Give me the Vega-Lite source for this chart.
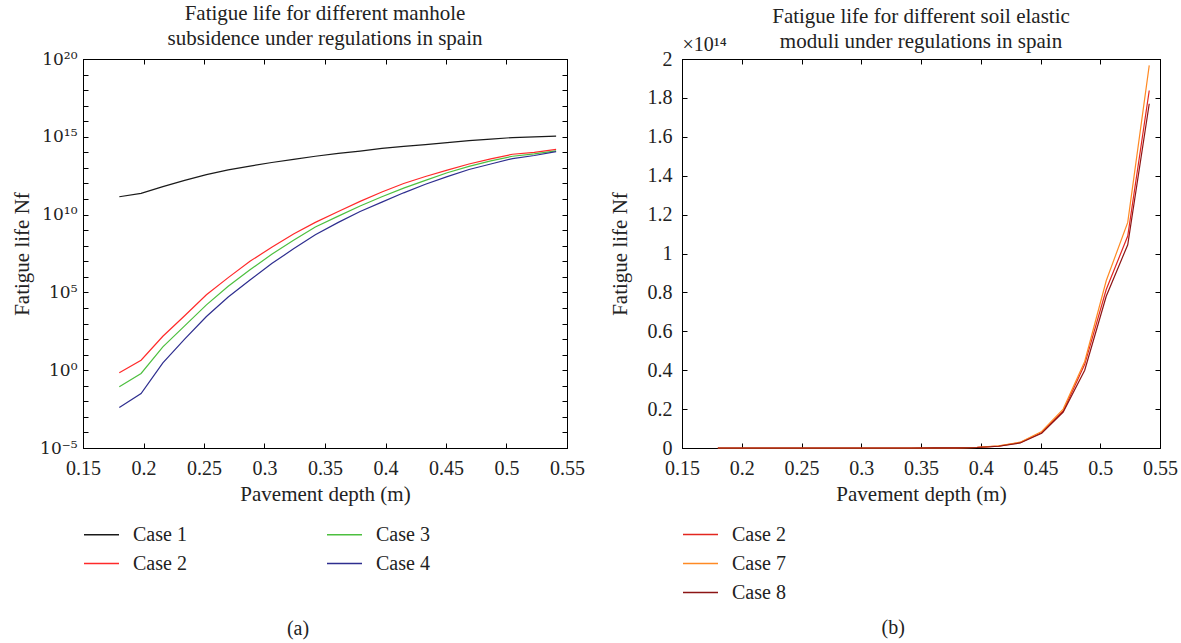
{
  "$schema": "https://vega.github.io/schema/vega-lite/v6.json",
  "background": "white",
  "padding": {"left": 11, "top": 2, "right": 5, "bottom": 2},
  "spacing": 23,
  "resolve": {"scale": {"color": "independent"}, "legend": {"color": "independent"}},
  "config": {
    "font": "Liberation Serif",
    "view": {"stroke": "#000", "strokeWidth": 1},
    "axis": {
      "grid": false,
      "domainColor": "#000",
      "tickColor": "#000",
      "tickSize": -5,
      "labelColor": "#222",
      "titleColor": "#222",
      "labelFont": "Liberation Serif",
      "titleFont": "Liberation Serif",
      "labelFontSize": 20,
      "titleFontSize": 21,
      "titleFontWeight": "normal",
      "labelOverlap": false,
      "labelFlush": false,
      "labelPadding": 11
    },
    "title": {"font": "Liberation Serif", "fontSize": 21, "fontWeight": "normal", "color": "#222", "lineHeight": 25},
    "legend": {
      "orient": "none",
      "title": null,
      "symbolType": "stroke",
      "symbolSize": 1225,
      "symbolStrokeWidth": 1.5,
      "labelFont": "Liberation Serif",
      "labelFontSize": 20,
      "labelColor": "#222",
      "labelOffset": 13,
      "rowPadding": -7
    }
  },
  "datasets": {
    "left": [
      {"x": 0.18, "case": "Case 1", "nf": 1.41e11}, {"x": 0.198, "case": "Case 1", "nf": 2.34e11}, {"x": 0.216, "case": "Case 1", "nf": 6.31e11}, {"x": 0.234, "case": "Case 1", "nf": 1.58e12}, {"x": 0.252, "case": "Case 1", "nf": 3.72e12}, {"x": 0.27, "case": "Case 1", "nf": 7.41e12}, {"x": 0.288, "case": "Case 1", "nf": 1.32e13}, {"x": 0.306, "case": "Case 1", "nf": 2.24e13}, {"x": 0.324, "case": "Case 1", "nf": 3.55e13}, {"x": 0.342, "case": "Case 1", "nf": 5.62e13}, {"x": 0.361, "case": "Case 1", "nf": 8.51e13}, {"x": 0.379, "case": "Case 1", "nf": 1.2e14}, {"x": 0.397, "case": "Case 1", "nf": 1.78e14}, {"x": 0.415, "case": "Case 1", "nf": 2.4e14}, {"x": 0.433, "case": "Case 1", "nf": 3.16e14}, {"x": 0.451, "case": "Case 1", "nf": 4.27e14}, {"x": 0.469, "case": "Case 1", "nf": 5.62e14}, {"x": 0.487, "case": "Case 1", "nf": 7.08e14}, {"x": 0.505, "case": "Case 1", "nf": 8.91e14}, {"x": 0.523, "case": "Case 1", "nf": 9.77e14}, {"x": 0.541, "case": "Case 1", "nf": 1.1e15},
      {"x": 0.18, "case": "Case 2", "nf": 0.676}, {"x": 0.198, "case": "Case 2", "nf": 4.37}, {"x": 0.216, "case": "Case 2", "nf": 151}, {"x": 0.234, "case": "Case 2", "nf": 3162}, {"x": 0.252, "case": "Case 2", "nf": 7.08e4}, {"x": 0.27, "case": "Case 2", "nf": 8.9e5}, {"x": 0.288, "case": "Case 2", "nf": 1e7}, {"x": 0.306, "case": "Case 2", "nf": 7.94e7}, {"x": 0.324, "case": "Case 2", "nf": 5.62e8}, {"x": 0.342, "case": "Case 2", "nf": 3.16e9}, {"x": 0.361, "case": "Case 2", "nf": 1.58e10}, {"x": 0.379, "case": "Case 2", "nf": 7.08e10}, {"x": 0.397, "case": "Case 2", "nf": 2.82e11}, {"x": 0.415, "case": "Case 2", "nf": 1e12}, {"x": 0.433, "case": "Case 2", "nf": 2.82e12}, {"x": 0.451, "case": "Case 2", "nf": 7.24e12}, {"x": 0.469, "case": "Case 2", "nf": 1.78e13}, {"x": 0.487, "case": "Case 2", "nf": 3.8e13}, {"x": 0.505, "case": "Case 2", "nf": 7.59e13}, {"x": 0.523, "case": "Case 2", "nf": 1e14}, {"x": 0.541, "case": "Case 2", "nf": 1.55e14},
      {"x": 0.18, "case": "Case 3", "nf": 0.0851}, {"x": 0.198, "case": "Case 3", "nf": 0.617}, {"x": 0.216, "case": "Case 3", "nf": 31.6}, {"x": 0.234, "case": "Case 3", "nf": 708}, {"x": 0.252, "case": "Case 3", "nf": 1.58e4}, {"x": 0.27, "case": "Case 3", "nf": 2.51e5}, {"x": 0.288, "case": "Case 3", "nf": 2.82e6}, {"x": 0.306, "case": "Case 3", "nf": 2.82e7}, {"x": 0.324, "case": "Case 3", "nf": 2.24e8}, {"x": 0.342, "case": "Case 3", "nf": 1.58e9}, {"x": 0.361, "case": "Case 3", "nf": 7.94e9}, {"x": 0.379, "case": "Case 3", "nf": 3.55e10}, {"x": 0.397, "case": "Case 3", "nf": 1.41e11}, {"x": 0.415, "case": "Case 3", "nf": 5.01e11}, {"x": 0.433, "case": "Case 3", "nf": 1.58e12}, {"x": 0.451, "case": "Case 3", "nf": 4.9e12}, {"x": 0.469, "case": "Case 3", "nf": 1.26e13}, {"x": 0.487, "case": "Case 3", "nf": 2.82e13}, {"x": 0.505, "case": "Case 3", "nf": 5.62e13}, {"x": 0.523, "case": "Case 3", "nf": 7.94e13}, {"x": 0.541, "case": "Case 3", "nf": 1.26e14},
      {"x": 0.18, "case": "Case 4", "nf": 0.00398}, {"x": 0.198, "case": "Case 4", "nf": 0.0316}, {"x": 0.216, "case": "Case 4", "nf": 2.95}, {"x": 0.234, "case": "Case 4", "nf": 100}, {"x": 0.252, "case": "Case 4", "nf": 2818}, {"x": 0.27, "case": "Case 4", "nf": 5.01e4}, {"x": 0.288, "case": "Case 4", "nf": 6.31e5}, {"x": 0.306, "case": "Case 4", "nf": 7.08e6}, {"x": 0.324, "case": "Case 4", "nf": 6.31e7}, {"x": 0.342, "case": "Case 4", "nf": 5.01e8}, {"x": 0.361, "case": "Case 4", "nf": 3.16e9}, {"x": 0.379, "case": "Case 4", "nf": 1.58e10}, {"x": 0.397, "case": "Case 4", "nf": 6.31e10}, {"x": 0.415, "case": "Case 4", "nf": 2.51e11}, {"x": 0.433, "case": "Case 4", "nf": 8.91e11}, {"x": 0.451, "case": "Case 4", "nf": 2.75e12}, {"x": 0.469, "case": "Case 4", "nf": 7.94e12}, {"x": 0.487, "case": "Case 4", "nf": 1.78e13}, {"x": 0.505, "case": "Case 4", "nf": 3.98e13}, {"x": 0.523, "case": "Case 4", "nf": 6.31e13}, {"x": 0.541, "case": "Case 4", "nf": 1.1e14}
    ],
    "right": [
      {"x": 0.18, "case": "Case 2", "nf": 0}, {"x": 0.198, "case": "Case 2", "nf": 0}, {"x": 0.216, "case": "Case 2", "nf": 0}, {"x": 0.234, "case": "Case 2", "nf": 0}, {"x": 0.252, "case": "Case 2", "nf": 0}, {"x": 0.27, "case": "Case 2", "nf": 0}, {"x": 0.288, "case": "Case 2", "nf": 0}, {"x": 0.306, "case": "Case 2", "nf": 0}, {"x": 0.324, "case": "Case 2", "nf": 0}, {"x": 0.342, "case": "Case 2", "nf": 0}, {"x": 0.361, "case": "Case 2", "nf": 1.6e10}, {"x": 0.379, "case": "Case 2", "nf": 7e10}, {"x": 0.397, "case": "Case 2", "nf": 2.8e11}, {"x": 0.415, "case": "Case 2", "nf": 1e12}, {"x": 0.433, "case": "Case 2", "nf": 2.8e12}, {"x": 0.451, "case": "Case 2", "nf": 8e12}, {"x": 0.469, "case": "Case 2", "nf": 1.9e13}, {"x": 0.487, "case": "Case 2", "nf": 4.3e13}, {"x": 0.505, "case": "Case 2", "nf": 8.15e13}, {"x": 0.523, "case": "Case 2", "nf": 1.09e14}, {"x": 0.541, "case": "Case 2", "nf": 1.838e14},
      {"x": 0.18, "case": "Case 7", "nf": 0}, {"x": 0.198, "case": "Case 7", "nf": 0}, {"x": 0.216, "case": "Case 7", "nf": 0}, {"x": 0.234, "case": "Case 7", "nf": 0}, {"x": 0.252, "case": "Case 7", "nf": 0}, {"x": 0.27, "case": "Case 7", "nf": 0}, {"x": 0.288, "case": "Case 7", "nf": 0}, {"x": 0.306, "case": "Case 7", "nf": 0}, {"x": 0.324, "case": "Case 7", "nf": 0}, {"x": 0.342, "case": "Case 7", "nf": 0}, {"x": 0.361, "case": "Case 7", "nf": 1.8e10}, {"x": 0.379, "case": "Case 7", "nf": 8e10}, {"x": 0.397, "case": "Case 7", "nf": 3e11}, {"x": 0.415, "case": "Case 7", "nf": 1.1e12}, {"x": 0.433, "case": "Case 7", "nf": 3e12}, {"x": 0.451, "case": "Case 7", "nf": 8.5e12}, {"x": 0.469, "case": "Case 7", "nf": 2e13}, {"x": 0.487, "case": "Case 7", "nf": 4.45e13}, {"x": 0.505, "case": "Case 7", "nf": 8.6e13}, {"x": 0.523, "case": "Case 7", "nf": 1.16e14}, {"x": 0.541, "case": "Case 7", "nf": 1.967e14},
      {"x": 0.18, "case": "Case 8", "nf": 0}, {"x": 0.198, "case": "Case 8", "nf": 0}, {"x": 0.216, "case": "Case 8", "nf": 0}, {"x": 0.234, "case": "Case 8", "nf": 0}, {"x": 0.252, "case": "Case 8", "nf": 0}, {"x": 0.27, "case": "Case 8", "nf": 0}, {"x": 0.288, "case": "Case 8", "nf": 0}, {"x": 0.306, "case": "Case 8", "nf": 0}, {"x": 0.324, "case": "Case 8", "nf": 0}, {"x": 0.342, "case": "Case 8", "nf": 0}, {"x": 0.361, "case": "Case 8", "nf": 1.4e10}, {"x": 0.379, "case": "Case 8", "nf": 6e10}, {"x": 0.397, "case": "Case 8", "nf": 2.5e11}, {"x": 0.415, "case": "Case 8", "nf": 9e11}, {"x": 0.433, "case": "Case 8", "nf": 2.6e12}, {"x": 0.451, "case": "Case 8", "nf": 7.6e12}, {"x": 0.469, "case": "Case 8", "nf": 1.85e13}, {"x": 0.487, "case": "Case 8", "nf": 4e13}, {"x": 0.505, "case": "Case 8", "nf": 7.8e13}, {"x": 0.523, "case": "Case 8", "nf": 1.045e14}, {"x": 0.541, "case": "Case 8", "nf": 1.77e14}
    ]
  },
  "hconcat": [
    {
      "title": {"text": "(a)", "orient": "bottom", "anchor": "middle", "fontSize": 20, "offset": 45},
      "vconcat": [
        {
          "title": {"text": ["Fatigue life for different manhole", "subsidence under regulations in spain"], "anchor": "middle", "offset": 1},
          "width": 484,
          "height": 389,
          "data": {"name": "left"},
          "resolve": {"axis": {"x": "independent", "y": "independent"}},
          "layer": [
            {
              "mark": {"type": "line", "strokeWidth": 1.2},
              "encoding": {
                "x": {"field": "x", "type": "quantitative", "scale": {"domain": [0.15, 0.55], "nice": false, "zero": false},
                      "axis": {"orient": "bottom", "title": "Pavement depth (m)", "values": [0.15, 0.2, 0.25, 0.3, 0.35, 0.4, 0.45, 0.5, 0.55], "format": "~g", "labelPadding": 15, "titlePadding": 5}},
                "y": {"field": "nf", "type": "quantitative", "scale": {"type": "log", "domain": [1e-5, 1e20], "nice": false},
                      "axis": {"orient": "left", "title": "Fatigue life Nf", "titlePadding": 7, "labelFont": "DejaVu Serif", "labelFontSize": 17,
                               "values": [1e-5, 1e-4, 1e-3, 1e-2, 1e-1, 1, 10, 100, 1e3, 1e4, 1e5, 1e6, 1e7, 1e8, 1e9, 1e10, 1e11, 1e12, 1e13, 1e14, 1e15, 1e16, 1e17, 1e18, 1e19, 1e20],
                               "labelExpr": "datum.value==1e-5?'10⁻⁵':datum.value==1?'10⁰':datum.value==1e5?'10⁵':datum.value==1e10?'10¹⁰':datum.value==1e15?'10¹⁵':datum.value==1e20?'10²⁰':''"}},
                "color": {"field": "case", "type": "nominal",
                          "scale": {"domain": ["Case 1", "Case 2", "Case 3", "Case 4"], "range": ["#1a1a1a", "#ff2a2a", "#4dbf3f", "#2e2e8f"]},
                          "legend": {"columns": 2, "legendX": 0, "legendY": 457, "columnPadding": 137}}
              }
            },
            {
              "mark": {"type": "point", "opacity": 0},
              "encoding": {
                "x": {"field": "x", "type": "quantitative", "axis": {"orient": "top", "title": null, "labels": false, "values": [0.15, 0.2, 0.25, 0.3, 0.35, 0.4, 0.45, 0.5, 0.55]}},
                "y": {"field": "nf", "type": "quantitative", "axis": {"orient": "right", "title": null, "labels": false,
                      "values": [1e-5, 1e-4, 1e-3, 1e-2, 1e-1, 1, 10, 100, 1e3, 1e4, 1e5, 1e6, 1e7, 1e8, 1e9, 1e10, 1e11, 1e12, 1e13, 1e14, 1e15, 1e16, 1e17, 1e18, 1e19, 1e20]}}
              }
            }
          ]
        }
      ]
    },
    {
      "title": {"text": "(b)", "orient": "bottom", "anchor": "middle", "fontSize": 20, "offset": 15},
      "vconcat": [
        {
          "title": {"text": ["Fatigue life for different soil elastic", "moduli under regulations in spain"], "anchor": "middle", "offset": -17},
          "width": 478,
          "height": 389,
          "data": {"name": "right"},
          "resolve": {"axis": {"x": "independent", "y": "independent"}},
          "layer": [
            {
              "mark": {"type": "line", "strokeWidth": 1.2},
              "encoding": {
                "x": {"field": "x", "type": "quantitative", "scale": {"domain": [0.15, 0.55], "nice": false, "zero": false},
                      "axis": {"orient": "bottom", "title": "Pavement depth (m)", "values": [0.15, 0.2, 0.25, 0.3, 0.35, 0.4, 0.45, 0.5, 0.55], "format": "~g", "labelPadding": 15, "titlePadding": 5}},
                "y": {"field": "nf", "type": "quantitative", "scale": {"domain": [0, 2e14], "nice": false},
                      "axis": {"orient": "left", "title": "Fatigue life Nf", "titlePadding": 17, "labelPadding": 15,
                               "values": [0, 2e13, 4e13, 6e13, 8e13, 1e14, 1.2e14, 1.4e14, 1.6e14, 1.8e14, 2e14],
                               "labelExpr": "format(datum.value/1e14, '.1~f')"}},
                "color": {"field": "case", "type": "nominal",
                          "scale": {"domain": ["Case 2", "Case 7", "Case 8"], "range": ["#e3261f", "#ff8a24", "#8c1515"]},
                          "legend": {"legendX": 0, "legendY": 457}}
              }
            },
            {
              "mark": {"type": "point", "opacity": 0},
              "encoding": {
                "x": {"field": "x", "type": "quantitative", "axis": {"orient": "top", "title": "×10¹⁴", "titleAnchor": "start", "titleAlign": "left", "titleX": 0, "titlePadding": 4, "titleFontSize": 20, "labels": false, "values": [0.15, 0.2, 0.25, 0.3, 0.35, 0.4, 0.45, 0.5, 0.55]}},
                "y": {"field": "nf", "type": "quantitative", "axis": {"orient": "right", "title": null, "labels": false,
                      "values": [0, 2e13, 4e13, 6e13, 8e13, 1e14, 1.2e14, 1.4e14, 1.6e14, 1.8e14, 2e14]}}
              }
            }
          ]
        }
      ]
    }
  ]
}
